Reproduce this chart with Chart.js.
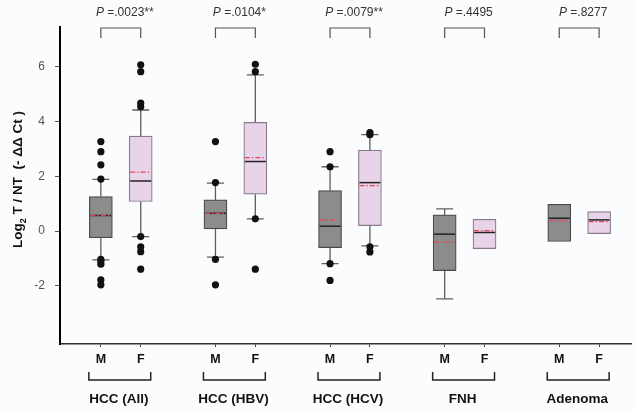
<!DOCTYPE html>
<html>
<head>
<meta charset="utf-8">
<script src="https://cdn.jsdelivr.net/npm/chart.js@4.4.0/dist/chart.umd.min.js"></script>
<style>
html, body { margin: 0; padding: 0; background: #fafcfd; }
</style>
</head>
<body>
<canvas id="chart" width="635" height="410"></canvas>
<script>
const groups = ['HCC (All)', 'HCC (HBV)', 'HCC (HCV)', 'FNH', 'Adenoma'];
const pValues = ['.0023**', '.0104*', '.0079**', '.4495', '.8277'];
const sexLabels = ['M', 'F'];
const yTicks = [-2, 0, 2, 4, 6];

// male (M) boxes
const maleQ1 = [-0.24, 0.08, -0.60, -1.44, -0.38];
const maleQ3 = [1.26, 1.14, 1.48, 0.59, 0.98];
const maleMedian = [0.57, 0.65, 0.18, -0.11, 0.47];
const maleMean = [0.57, 0.65, 0.40, -0.40, 0.38];
const maleWhiskerLo = [-1.05, -0.95, -1.19, -2.47, null];
const maleWhiskerHi = [1.89, 1.75, 2.35, 0.81, null];
const maleOutliers = [
    [3.27, 2.90, 2.42, 1.90, -1.03, -1.11, -1.21, -1.78, -1.96],
    [3.27, 1.77, -1.03, -1.96],
    [2.90, 2.35, -1.19, -1.80],
    [],
    []
];

// female (F) boxes
const femaleQ1 = [1.08, 1.35, 0.20, -0.64, -0.09];
const femaleQ3 = [3.47, 3.97, 2.96, 0.43, 0.71];
const femaleMedian = [1.83, 2.54, 1.77, -0.05, 0.41];
const femaleMean = [2.15, 2.68, 1.66, 0.02, 0.35];
const femaleWhiskerLo = [-0.20, 0.45, -0.54, null, null];
const femaleWhiskerHi = [4.42, 5.70, 3.52, null, null];
const femaleOutliers = [
    [6.07, 5.82, 4.67, 4.54, -0.20, -0.57, -0.75, -1.39],
    [6.09, 5.82, 0.45, -1.39],
    [3.60, 3.52, -0.57, -0.76],
    [],
    []
];

const GROUP_STEP = 2.875;
const BOX_W = 23;
const CAP_W = 17;
const FONT = '"Liberation Sans", Arial, sans-serif';

function xPos(g, s) {
    return g * GROUP_STEP + s;
}

const sexes = [
    { offset: 0, q1: maleQ1, q3: maleQ3, med: maleMedian, mean: maleMean, lo: maleWhiskerLo, hi: maleWhiskerHi },
    { offset: 1, q1: femaleQ1, q3: femaleQ3, med: femaleMedian, mean: femaleMean, lo: femaleWhiskerLo, hi: femaleWhiskerHi }
];

const tickPositions = [];
groups.forEach((g, i) => { tickPositions.push(xPos(i, 0), xPos(i, 1)); });

function boxData(q1, q3, s) {
    return groups.map((g, i) => ({ x: xPos(i, s), y: [q1[i], q3[i]] }));
}
function outlierData(list, s) {
    return list.flatMap((arr, i) => arr.map(v => ({ x: xPos(i, s), y: v })));
}

const boxDetails = {
    id: 'boxDetails',
    beforeDatasetsDraw(chart) {
        const { ctx, scales: { x, y } } = chart;
        ctx.save();
        ctx.strokeStyle = '#5e5e5e';
        ctx.lineWidth = 1.3;
        sexes.forEach(s => {
            groups.forEach((g, i) => {
                const px = x.getPixelForValue(xPos(i, s.offset));
                [[s.lo[i], s.q1[i]], [s.hi[i], s.q3[i]]].forEach(([w, edge]) => {
                    if (w === null) return;
                    const pw = y.getPixelForValue(w);
                    ctx.beginPath();
                    ctx.moveTo(px, y.getPixelForValue(edge));
                    ctx.lineTo(px, pw);
                    ctx.moveTo(px - CAP_W / 2, pw);
                    ctx.lineTo(px + CAP_W / 2, pw);
                    ctx.stroke();
                });
            });
        });
        ctx.restore();
    },
    afterDatasetsDraw(chart) {
        const { ctx, scales: { x, y } } = chart;
        ctx.save();
        sexes.forEach(s => {
            groups.forEach((g, i) => {
                const px = x.getPixelForValue(xPos(i, s.offset));
                const l = px - BOX_W / 2 + 1, r = px + BOX_W / 2 - 1;
                let py = y.getPixelForValue(s.med[i]);
                ctx.setLineDash([]);
                ctx.strokeStyle = '#222';
                ctx.lineWidth = 1.5;
                ctx.beginPath(); ctx.moveTo(l, py); ctx.lineTo(r, py); ctx.stroke();
                py = y.getPixelForValue(s.mean[i]);
                ctx.setLineDash([5, 2, 1.5, 2]);
                ctx.strokeStyle = '#e5455c';
                ctx.lineWidth = 1.2;
                ctx.beginPath(); ctx.moveTo(l, py); ctx.lineTo(r, py); ctx.stroke();
            });
        });
        ctx.restore();
    },
    afterDraw(chart) {
        const { ctx, chartArea, scales: { x } } = chart;
        ctx.save();
        groups.forEach((g, i) => {
            const pm = x.getPixelForValue(xPos(i, 0));
            const pf = x.getPixelForValue(xPos(i, 1));
            const mid = (pm + pf) / 2;
            // top bracket + p value
            const t = chartArea.top + 1;
            ctx.strokeStyle = '#555';
            ctx.lineWidth = 1.2;
            ctx.beginPath();
            ctx.moveTo(pm, t + 10); ctx.lineTo(pm, t); ctx.lineTo(pf, t); ctx.lineTo(pf, t + 10);
            ctx.stroke();
            ctx.fillStyle = '#333';
            ctx.textBaseline = 'alphabetic';
            ctx.font = 'italic 12px ' + FONT;
            const pw = ctx.measureText('P').width;
            ctx.font = '12px ' + FONT;
            const rest = ' =' + pValues[i];
            const rw = ctx.measureText(rest).width;
            const sx = mid + 4 - (pw + rw) / 2;
            ctx.textAlign = 'left';
            ctx.font = 'italic 12px ' + FONT;
            ctx.fillText('P', sx, 16);
            ctx.font = '12px ' + FONT;
            ctx.fillText(rest, sx + pw, 16);
            // bottom bracket + group label
            ctx.strokeStyle = '#222';
            ctx.lineWidth = 1.5;
            ctx.beginPath();
            ctx.moveTo(pm - 12, 372); ctx.lineTo(pm - 12, 380); ctx.lineTo(pf + 10, 380); ctx.lineTo(pf + 10, 372);
            ctx.stroke();
            ctx.fillStyle = '#111';
            ctx.font = 'bold 13.5px ' + FONT;
            ctx.textAlign = 'center';
            ctx.fillText(g, mid - 2, 403);
        });
        // y axis title
        ctx.translate(22, (chartArea.top + chartArea.bottom) / 2 - 6);
        ctx.rotate(-Math.PI / 2);
        const parts = [
            ['Log', 'bold 13.5px ' + FONT, 0],
            ['2', 'bold 9px ' + FONT, 4],
            [' T / NT  (- \u0394\u0394 Ct )', 'bold 13.5px ' + FONT, 0]
        ];
        let total = 0;
        parts.forEach(p => { ctx.font = p[1]; total += ctx.measureText(p[0]).width; });
        let cx = -total / 2;
        ctx.fillStyle = '#111';
        ctx.textAlign = 'left';
        parts.forEach(p => {
            ctx.font = p[1];
            ctx.fillText(p[0], cx, p[2]);
            cx += ctx.measureText(p[0]).width;
        });
        ctx.restore();
    }
};

new Chart(document.getElementById('chart'), {
    type: 'bar',
    data: {
        datasets: [
            {
                label: 'M',
                data: boxData(maleQ1, maleQ3, 0),
                backgroundColor: '#8b8d8b',
                borderColor: '#4a4a4a',
                borderWidth: 1.2,
                borderSkipped: false,
                barThickness: BOX_W,
                grouped: false
            },
            {
                label: 'F',
                data: boxData(femaleQ1, femaleQ3, 1),
                backgroundColor: '#e8d4e8',
                borderColor: '#8a7a8c',
                borderWidth: 1.2,
                borderSkipped: false,
                barThickness: BOX_W,
                grouped: false
            },
            {
                type: 'scatter',
                label: 'M outliers',
                data: outlierData(maleOutliers, 0),
                backgroundColor: '#111',
                borderWidth: 0,
                pointRadius: 3.6
            },
            {
                type: 'scatter',
                label: 'F outliers',
                data: outlierData(femaleOutliers, 1),
                backgroundColor: '#111',
                borderWidth: 0,
                pointRadius: 3.6
            }
        ]
    },
    options: {
        responsive: false,
        animation: false,
        layout: { padding: { top: 27, right: 3, left: 0, bottom: 0 } },
        plugins: { legend: { display: false }, tooltip: { enabled: false } },
        scales: {
            x: {
                type: 'linear',
                offset: false,
                min: -1.025,
                max: 13.3,
                afterBuildTicks: axis => { axis.ticks = tickPositions.map(v => ({ value: v })); },
                afterFit: axis => { axis.height = 66; },
                ticks: {
                    autoSkip: false,
                    maxRotation: 0,
                    padding: 5,
                    color: '#111',
                    font: { family: FONT, size: 12.5, weight: 'bold' },
                    callback: (v, i) => sexLabels[i % 2]
                },
                grid: { offset: false, drawOnChartArea: false, drawTicks: true, tickLength: 3, color: '#444' },
                border: { color: '#333', width: 1.5 }
            },
            y: {
                min: -4.12,
                max: 7.45,
                afterBuildTicks: axis => { axis.ticks = yTicks.map(v => ({ value: v })); },
                afterFit: axis => { axis.width = 60; },
                ticks: {
                    padding: 10,
                    color: '#555',
                    font: { family: FONT, size: 12 }
                },
                grid: { drawOnChartArea: false, drawTicks: true, tickLength: 5, color: '#555' },
                border: { color: '#000', width: 2 }
            }
        }
    },
    plugins: [boxDetails]
});
</script>
</body>
</html>
